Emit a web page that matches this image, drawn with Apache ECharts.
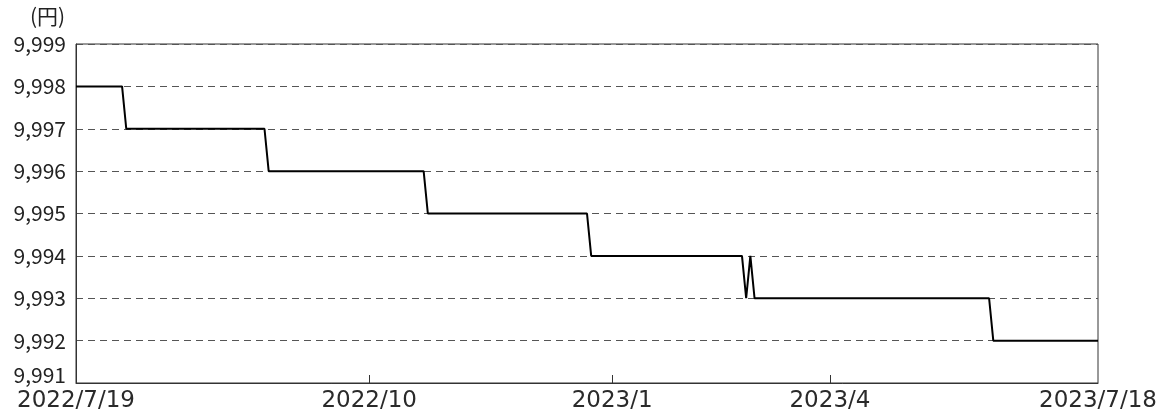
<!DOCTYPE html>
<html>
<head>
<meta charset="utf-8">
<script src="https://cdn.jsdelivr.net/npm/echarts@6/dist/echarts.min.js"></script>
<style>
  html, body { margin: 0; padding: 0; background: #fff; }
  #main { width: 1171px; height: 415px; }
</style>
</head>
<body>
<div id="main"></div>
<script>
(function(){
    var mychart = echarts.init(document.getElementById('main'));

    // price levels and how many daily points each level lasts (run-length)
    var runValues = [9998, 9997, 9996, 9995, 9994, 9993, 9994, 9993, 9992];
    var runCounts = [12, 34, 38, 39, 37, 1, 1, 57, 26];
    // x-axis labels and the point index they sit on
    var tickIndex = [0, 70, 128, 180, 244];
    var tickLabels = ['2022/7/19', '2022/10', '2023/1', '2023/4', '2023/7/18'];

    var prices = [];
    for (var r = 0; r < runValues.length; r++) {
        for (var k = 0; k < runCounts[r]; k++) prices.push(runValues[r]);
    }
    var days = prices.map(function(v, i){ return String(i); });

    function isTick(idx) { return tickIndex.indexOf(idx) >= 0; }
    function isInnerTick(idx) { return idx > 0 && idx < prices.length - 1 && isTick(idx); }

    var font = '"Noto Sans CJK JP", "Noto Sans", sans-serif';

    var option = {
        animation: false,
        backgroundColor: '#fff',
        title: {
            text: '(円)',
            left: 25,
            top: 1,
            textStyle: { fontFamily: font, fontSize: 21, fontWeight: 'normal', color: '#222' }
        },
        grid: {
            left: 76, right: 73, top: 44, bottom: 32,
            show: true,
            borderColor: '#333',
            borderWidth: 1
        },
        xAxis: {
            type: 'category',
            boundaryGap: false,
            data: days,
            axisLine: { lineStyle: { color: '#333', width: 1 } },
            axisTick: {
                inside: true,
                length: 8,
                lineStyle: { color: '#333' },
                interval: function(idx){ return isInnerTick(idx); }
            },
            axisLabel: {
                interval: function(idx){ return isTick(idx); },
                margin: 7,
                fontFamily: '"DejaVu Sans", sans-serif',
                fontSize: 23,
                color: '#2a2a2a',
                formatter: function(v, idx){
                    var p = tickIndex.indexOf(idx);
                    return p >= 0 ? tickLabels[p] : '';
                }
            },
            splitLine: { show: false }
        },
        yAxis: {
            type: 'value',
            min: 9991,
            max: 9999,
            interval: 1,
            axisLine: { show: true, lineStyle: { color: '#333', width: 1 } },
            axisTick: { show: false },
            axisLabel: {
                margin: 10,
                fontFamily: font,
                fontSize: 21,
                color: '#222',
                formatter: function(v){
                    var s = String(v);
                    s = s.slice(0, 1) + ',' + s.slice(1);
                    return v === 9991 ? '{m|' + s + '}' : s;
                },
                rich: {
                    m: { fontFamily: font, fontSize: 21, color: '#222', padding: [0, 0, 16, 0] }
                }
            },
            splitLine: {
                show: true,
                lineStyle: { color: '#555', type: [7, 5], width: 1 }
            }
        },
        series: [{
            type: 'line',
            data: prices,
            showSymbol: false,
            lineStyle: { color: '#000', width: 2 },
            itemStyle: { color: '#000' }
        }]
    };
    mychart.setOption(option);
})();
</script>
</body>
</html>
